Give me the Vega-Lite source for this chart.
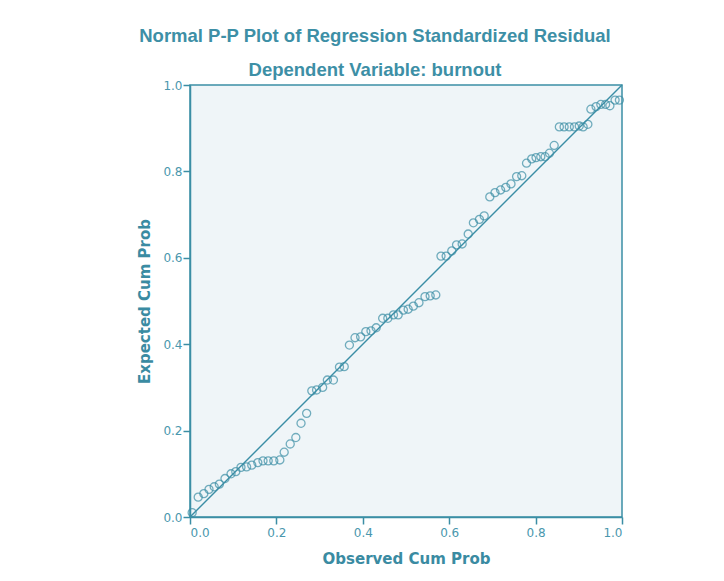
{
  "$schema": "https://vega.github.io/schema/vega-lite/v6.json",
  "width": 432,
  "height": 432,
  "padding": {"left": 137, "top": 26, "right": 20, "bottom": 10},
  "background": "#ffffff",
  "config": {
    "view": {"fill": "#eff5f8", "stroke": "#3b8ea5", "strokeWidth": 1.5},
    "axis": {
      "domainColor": "#3b8ea5", "domainWidth": 1.5, "tickColor": "#3b8ea5", "tickSize": 7, "tickWidth": 1.5,
      "labelColor": "#4a97ad", "labelFont": "DejaVu Sans", "labelFontSize": 12, "grid": false,
      "titleColor": "#3a8ba2", "titleFont": "DejaVu Sans", "titleFontSize": 15, "titleFontWeight": "bold"
    }
  },
  "title": {
    "text": ["Normal P-P Plot of Regression Standardized Residual", "Dependent Variable: burnout"],
    "font": "Liberation Sans", "fontSize": 18.5, "fontWeight": "bold", "color": "#3d8fa6",
    "lineHeight": 34, "offset": 0, "anchor": "middle", "frame": "bounds", "dx": -7
  },
  "datasets": {
    "points": [
      {"obs": 0.005, "exp": 0.010}, {"obs": 0.019, "exp": 0.046}, {"obs": 0.032, "exp": 0.054},
      {"obs": 0.044, "exp": 0.064}, {"obs": 0.056, "exp": 0.070}, {"obs": 0.068, "exp": 0.076},
      {"obs": 0.081, "exp": 0.089}, {"obs": 0.095, "exp": 0.100}, {"obs": 0.106, "exp": 0.105},
      {"obs": 0.118, "exp": 0.115}, {"obs": 0.131, "exp": 0.116}, {"obs": 0.143, "exp": 0.120},
      {"obs": 0.157, "exp": 0.126}, {"obs": 0.169, "exp": 0.130}, {"obs": 0.181, "exp": 0.130},
      {"obs": 0.194, "exp": 0.130}, {"obs": 0.208, "exp": 0.132}, {"obs": 0.218, "exp": 0.150},
      {"obs": 0.232, "exp": 0.169}, {"obs": 0.245, "exp": 0.184}, {"obs": 0.257, "exp": 0.217},
      {"obs": 0.270, "exp": 0.240}, {"obs": 0.282, "exp": 0.292}, {"obs": 0.293, "exp": 0.294},
      {"obs": 0.307, "exp": 0.300}, {"obs": 0.318, "exp": 0.317}, {"obs": 0.332, "exp": 0.317},
      {"obs": 0.346, "exp": 0.347}, {"obs": 0.357, "exp": 0.348}, {"obs": 0.369, "exp": 0.398},
      {"obs": 0.382, "exp": 0.415}, {"obs": 0.395, "exp": 0.417}, {"obs": 0.407, "exp": 0.429},
      {"obs": 0.419, "exp": 0.431}, {"obs": 0.431, "exp": 0.438}, {"obs": 0.446, "exp": 0.460},
      {"obs": 0.458, "exp": 0.460}, {"obs": 0.471, "exp": 0.468}, {"obs": 0.482, "exp": 0.468},
      {"obs": 0.494, "exp": 0.479}, {"obs": 0.505, "exp": 0.481}, {"obs": 0.517, "exp": 0.488},
      {"obs": 0.530, "exp": 0.496}, {"obs": 0.544, "exp": 0.510}, {"obs": 0.556, "exp": 0.512},
      {"obs": 0.569, "exp": 0.514}, {"obs": 0.581, "exp": 0.604}, {"obs": 0.593, "exp": 0.604},
      {"obs": 0.606, "exp": 0.616}, {"obs": 0.617, "exp": 0.630}, {"obs": 0.630, "exp": 0.632},
      {"obs": 0.644, "exp": 0.655}, {"obs": 0.656, "exp": 0.681}, {"obs": 0.670, "exp": 0.689},
      {"obs": 0.681, "exp": 0.697}, {"obs": 0.694, "exp": 0.741}, {"obs": 0.706, "exp": 0.751},
      {"obs": 0.719, "exp": 0.757}, {"obs": 0.731, "exp": 0.763}, {"obs": 0.743, "exp": 0.771},
      {"obs": 0.756, "exp": 0.788}, {"obs": 0.768, "exp": 0.790}, {"obs": 0.779, "exp": 0.819},
      {"obs": 0.791, "exp": 0.829}, {"obs": 0.801, "exp": 0.832}, {"obs": 0.812, "exp": 0.834},
      {"obs": 0.822, "exp": 0.834}, {"obs": 0.832, "exp": 0.842}, {"obs": 0.843, "exp": 0.860},
      {"obs": 0.855, "exp": 0.903}, {"obs": 0.866, "exp": 0.903}, {"obs": 0.878, "exp": 0.903},
      {"obs": 0.890, "exp": 0.903}, {"obs": 0.901, "exp": 0.905}, {"obs": 0.910, "exp": 0.903},
      {"obs": 0.921, "exp": 0.909}, {"obs": 0.928, "exp": 0.944}, {"obs": 0.940, "exp": 0.950},
      {"obs": 0.951, "exp": 0.955}, {"obs": 0.962, "exp": 0.955}, {"obs": 0.972, "exp": 0.952},
      {"obs": 0.984, "exp": 0.965}, {"obs": 0.994, "exp": 0.965}
    ],
    "diag": [{"obs": 0, "exp": 0}, {"obs": 1, "exp": 1}]
  },
  "layer": [
    {
      "data": {"name": "diag"},
      "mark": {"type": "line", "color": "#3b8ea5", "strokeWidth": 1.4},
      "encoding": {
        "x": {"field": "obs", "type": "quantitative", "scale": {"domain": [0, 1]},
              "axis": {"title": "Observed Cum Prob", "values": [0, 0.2, 0.4, 0.6, 0.8, 1], "format": ".1f", "titlePadding": 13, "labelPadding": 3}},
        "y": {"field": "exp", "type": "quantitative", "scale": {"domain": [0, 1]},
              "axis": {"title": "Expected Cum Prob", "values": [0, 0.2, 0.4, 0.6, 0.8, 1], "format": ".1f", "titlePadding": 10, "labelPadding": 1}}
      }
    },
    {
      "data": {"name": "points"},
      "mark": {"type": "point", "shape": "circle", "filled": false, "color": "#3b8ea5", "size": 65, "strokeWidth": 1.3},
      "encoding": {
        "x": {"field": "obs", "type": "quantitative"},
        "y": {"field": "exp", "type": "quantitative"}
      }
    }
  ]
}
